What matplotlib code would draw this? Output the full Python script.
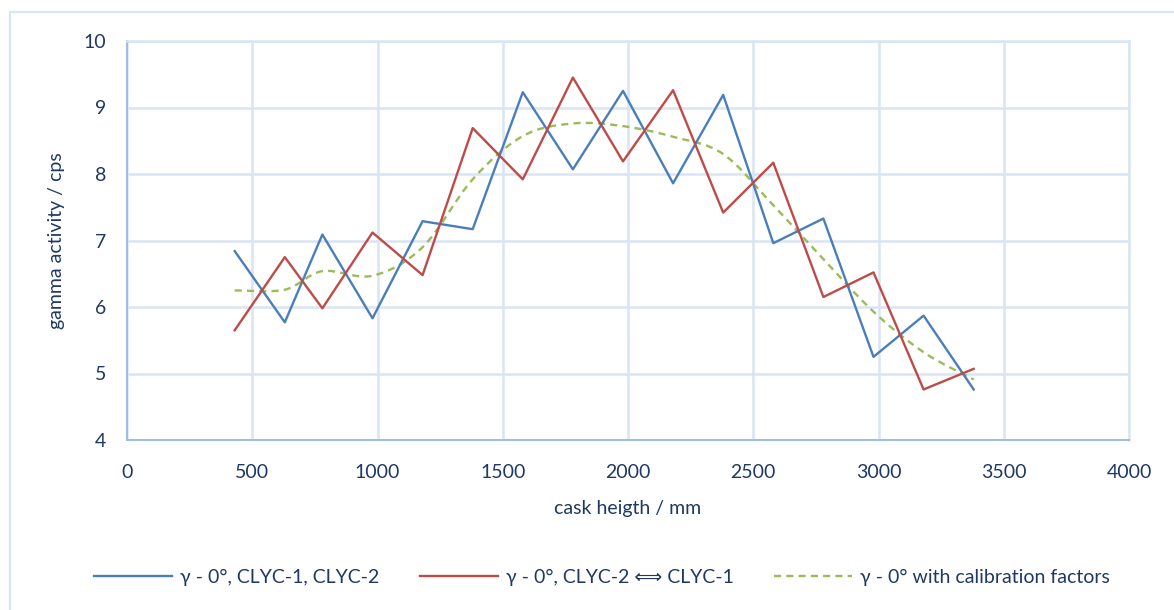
import matplotlib
matplotlib.use("Agg")
import matplotlib.pyplot as plt
from matplotlib.path import Path
from matplotlib.patches import PathPatch
from matplotlib.lines import Line2D
import numpy as np

# Measurement positions along the cask (mm)
height_mm = [430, 630, 780, 980, 1180, 1380, 1580, 1780, 1980, 2180,
             2380, 2580, 2780, 2980, 3180, 3380]

# Gamma count rates (cps)
clyc_1_2 = [6.84, 5.77, 7.09, 5.83, 7.29, 7.17, 9.23, 8.07, 9.25, 7.86,
            9.19, 6.96, 7.33, 5.25, 5.87, 4.76]
clyc_2_1 = [5.65, 6.75, 5.98, 7.12, 6.48, 8.69, 7.92, 9.45, 8.19, 9.26,
            7.42, 8.17, 6.15, 6.52, 4.76, 5.07]
calibrated = [6.25, 6.26, 6.54, 6.47, 6.90, 7.92, 8.57, 8.76, 8.72, 8.56,
              8.30, 7.53, 6.72, 5.93, 5.32, 4.91]

labels = ["γ - 0°, CLYC-1, CLYC-2",
          "γ - 0°, CLYC-2 ⟺ CLYC-1",
          "γ - 0° with calibration factors"]

x_ticks = [0, 500, 1000, 1500, 2000, 2500, 3000, 3500, 4000]
y_ticks = [4, 5, 6, 7, 8, 9, 10]

BLUE = "#4A7EBB"
RED = "#BE4B48"
GREEN = "#9BBB59"
TEXT = "#1F3864"
GRID = "#D9E4F4"
SPINE = "#9DBCE6"

FONT = ["Lato", "DejaVu Sans"]
plt.rcParams["font.family"] = FONT
FS = 14


def smooth_path(xs, ys):
    """Cardinal-spline Bezier path through the points (smoothed line)."""
    pts = np.column_stack([xs, ys]).astype(float)
    n = len(pts)
    verts = [pts[0]]
    codes = [Path.MOVETO]
    for i in range(n - 1):
        p0 = pts[i - 1] if i > 0 else pts[i]
        p1 = pts[i]
        p2 = pts[i + 1]
        p3 = pts[i + 2] if i + 2 < n else pts[i + 1]
        c1 = p1 + (p2 - p0) / 6.0
        c2 = p2 - (p3 - p1) / 6.0
        verts += [c1, c2, p2]
        codes += [Path.CURVE4] * 3
    return Path(verts, codes)


fig = plt.figure(figsize=(11.74, 6.10), dpi=100)

# Chart-area frame (left and top edges visible)
fig.add_artist(Line2D([10 / 1174, 10 / 1174], [0, 1 - 12 / 610],
                      transform=fig.transFigure, color=GRID, lw=1.5))
fig.add_artist(Line2D([10 / 1174, 1], [1 - 12 / 610, 1 - 12 / 610],
                      transform=fig.transFigure, color=GRID, lw=1.5))

ax = fig.add_axes([127 / 1174, 1 - 440 / 610, (1129 - 127) / 1174, (440 - 41) / 610])

ax.set_xlim(0, 4000)
ax.set_ylim(4, 10)
ax.set_xticks(x_ticks)
ax.set_yticks(y_ticks)
ax.grid(True, color=GRID, lw=1.8)
ax.set_axisbelow(True)
for side in ["top", "right"]:
    ax.spines[side].set_color(GRID)
    ax.spines[side].set_linewidth(1.8)
for side in ["left", "bottom"]:
    ax.spines[side].set_color(SPINE)
    ax.spines[side].set_linewidth(1.4)
ax.tick_params(length=0, labelsize=FS, labelcolor=TEXT)
ax.tick_params(axis="x", pad=17)
ax.tick_params(axis="y", pad=15)

ax.plot(height_mm, clyc_1_2, color=BLUE, lw=1.7, label=labels[0])
ax.plot(height_mm, clyc_2_1, color=RED, lw=1.7, label=labels[1])
green_patch = PathPatch(smooth_path(height_mm, calibrated), facecolor="none",
                        edgecolor=GREEN, lw=1.7, linestyle=(0, (3, 2.2)),
                        capstyle="butt")
ax.add_patch(green_patch)

ax.set_xlabel("cask heigth / mm", fontsize=FS, color=TEXT, labelpad=14)
ax.set_ylabel("gamma activity / cps", fontsize=FS, color=TEXT, labelpad=13)

handles = [Line2D([], [], color=BLUE, lw=1.7),
           Line2D([], [], color=RED, lw=1.7),
           Line2D([], [], color=GREEN, lw=1.7, linestyle=(0, (3, 2.2)))]
fig.legend(handles, labels, loc="center", ncol=3,
           bbox_to_anchor=(602 / 1174, 1 - 577 / 610), frameon=False,
           prop={"family": FONT, "size": FS}, labelcolor=TEXT,
           handlelength=4.0, handletextpad=0.4, columnspacing=2.1)

fig.savefig("out.png", dpi=100, facecolor="white")
